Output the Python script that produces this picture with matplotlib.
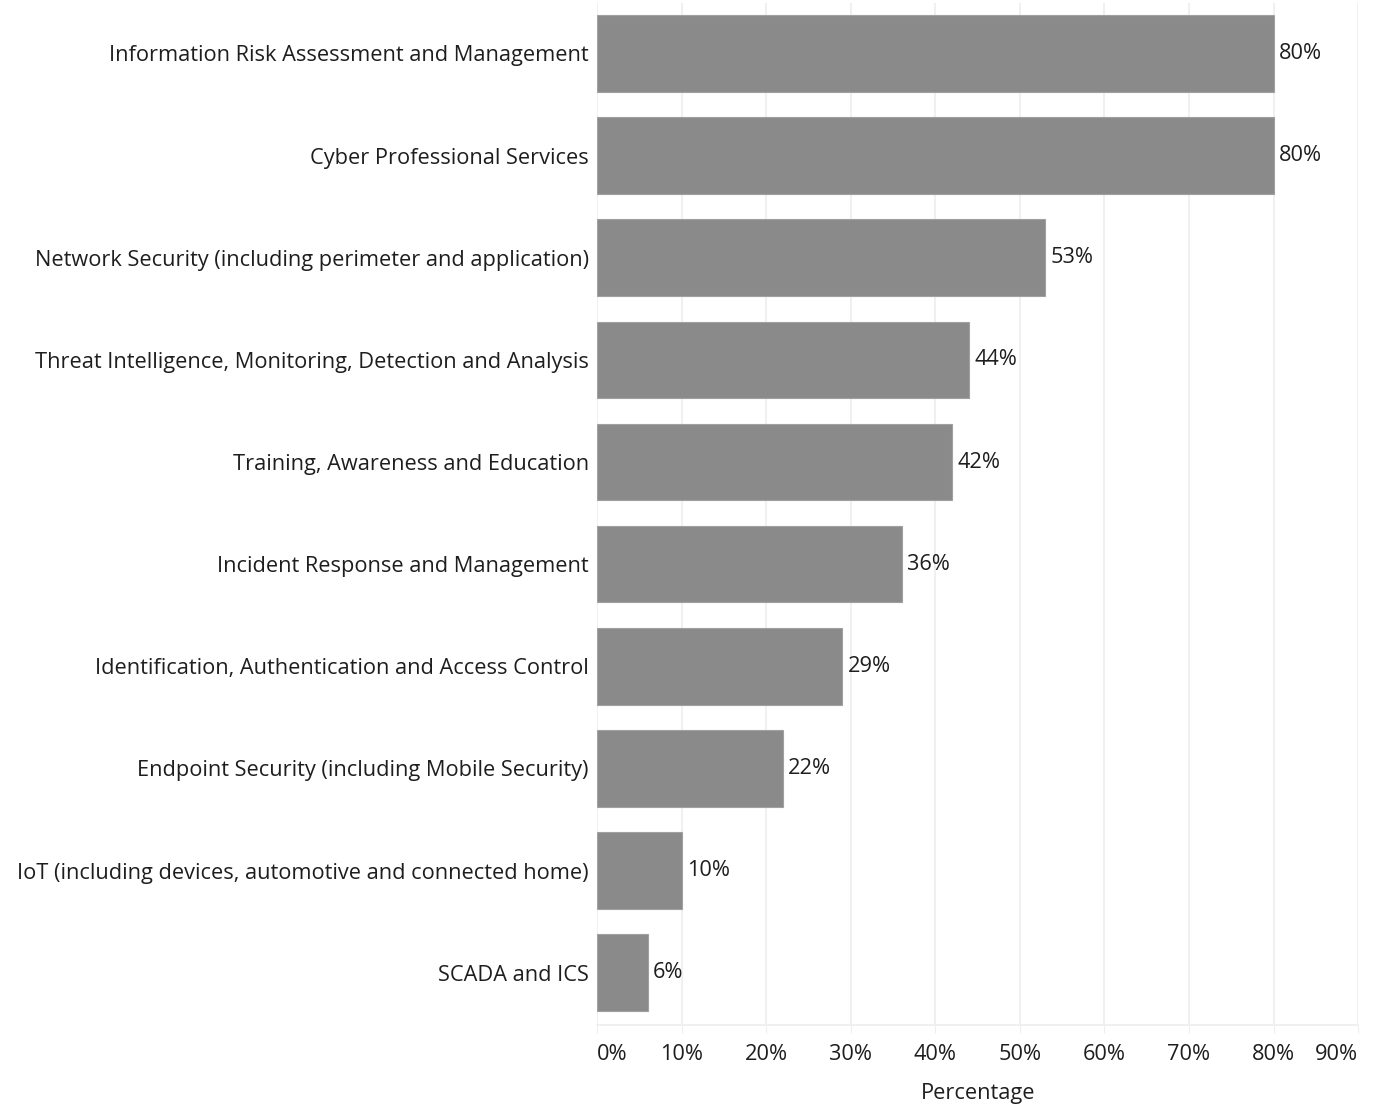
import numpy as np
import matplotlib.pyplot as plt
from matplotlib.ticker import FuncFormatter

categories = [
    "Information Risk Assessment and Management",
    "Cyber Professional Services",
    "Network Security (including perimeter and application)",
    "Threat Intelligence, Monitoring, Detection and Analysis",
    "Training, Awareness and Education",
    "Incident Response and Management",
    "Identification, Authentication and Access Control",
    "Endpoint Security (including Mobile Security)",
    "IoT (including devices, automotive and connected home)",
    "SCADA and ICS",
]
values = [80, 80, 53, 44, 42, 36, 29, 22, 10, 6]
x_ticks = [0, 10, 20, 30, 40, 50, 60, 70, 80, 90]

plt.rcParams['font.family'] = ['Open Sans', 'DejaVu Sans']
FS = 15.7
TXT = '#1e1e1e'

fig = plt.figure(figsize=(13.76, 11.08), dpi=100)
ax = fig.add_axes([0.434, 0.075, 0.553, 0.922])

y = np.arange(len(categories))
ax.barh(y, values, height=0.75, color='#8a8a8a', edgecolor='#a0a0a0', linewidth=0.8, zorder=2)
for yi, v in zip(y, values):
    ax.text(v + 0.6, yi, f"{v}%", va='center', ha='left', fontsize=FS, color=TXT)

ax.set_xlim(0, 90)
ax.set_ylim(len(categories) - 0.49, -0.49)
ax.set_yticks(y)
ax.set_yticklabels(categories, fontsize=FS, color=TXT)
ax.set_xticks(x_ticks)
ax.xaxis.set_major_formatter(FuncFormatter(lambda v, p: f"{v:.0f}%"))
ax.tick_params(axis='x', labelsize=FS, colors=TXT, length=6, color='#eeeeee', pad=8)
ax.tick_params(axis='y', length=0, pad=6)
# keep the end labels inside the axes span
xlabels = ax.get_xticklabels()
xlabels[0].set_horizontalalignment('left')
xlabels[-1].set_horizontalalignment('right')
ax.grid(axis='x', color='#eeeeee', linewidth=1.2, zorder=0)
for s in ['top', 'right', 'left']:
    ax.spines[s].set_visible(False)
ax.spines['bottom'].set_color('#eeeeee')
ax.spines['bottom'].set_linewidth(1.2)
ax.set_xlabel("Percentage", fontsize=FS, color=TXT, labelpad=13)

fig.savefig("out.png")
